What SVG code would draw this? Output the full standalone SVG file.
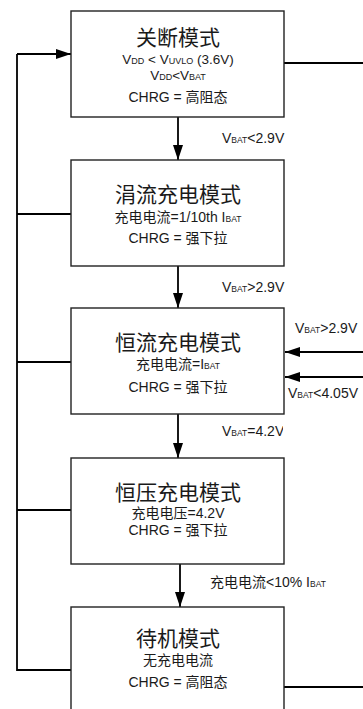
<svg xmlns="http://www.w3.org/2000/svg" width="363" height="709" viewBox="0 0 363 709">
<style>
.box{fill:#fff;stroke:#222;stroke-width:1.4}
.ln{fill:none;stroke:#000;stroke-width:1.8}
text{font-family:"Liberation Sans","Noto Sans CJK SC",sans-serif;fill:#1a1a1a}
.t{font-size:21px;text-anchor:middle}
.s{font-size:14px;text-anchor:middle}
.s2{font-size:13.5px;text-anchor:middle}
.l{font-size:14px}
.sub{font-size:8.5px}
.sub2{font-size:9px}
</style>
<defs>
<marker id="ah" markerWidth="15" markerHeight="10" refX="15" refY="5" orient="auto" markerUnits="userSpaceOnUse">
<path d="M0,0 L15,5 L0,10 Z" fill="#000"/>
</marker>
<clipPath id="clip42"><rect x="0" y="0" width="283" height="709"/></clipPath>
</defs>
<g id="connectors">
<path class="ln" d="M17,54 V670 H71"/>
<path class="ln" d="M17,214 H71"/>
<path class="ln" d="M17,362 H71"/>
<path class="ln" d="M17,510 H71"/>
<path class="ln" d="M17,54 H71" marker-end="url(#ah)"/>
<path class="ln" d="M284,63 H363"/>
<path class="ln" d="M284,687 H363"/>
<path class="ln" d="M178,117 V160" marker-end="url(#ah)"/>
<path class="ln" d="M178,266 V308" marker-end="url(#ah)"/>
<path class="ln" d="M178,414 V458" marker-end="url(#ah)"/>
<path class="ln" d="M180,564 V607" marker-end="url(#ah)"/>
<path class="ln" d="M363,352 H285" marker-end="url(#ah)"/>
<path class="ln" d="M363,377 H285" marker-end="url(#ah)"/>
<text class="l" x="222" y="143">V<tspan class="sub">BAT</tspan>&lt;2.9V</text>
<text class="l" x="222" y="292">V<tspan class="sub">BAT</tspan>&gt;2.9V</text>
<text class="l" x="295" y="333">V<tspan class="sub">BAT</tspan>&gt;2.9V</text>
<text class="l" x="288" y="398">V<tspan class="sub">BAT</tspan>&lt;4.05V</text>
<text class="l" x="222" y="436" clip-path="url(#clip42)">V<tspan class="sub">BAT</tspan>=4.2V</text>
<text class="l" x="210" y="587">充电电流&lt;10% I<tspan class="sub">BAT</tspan></text>
</g>
<g id="shutdown">
<rect class="box" x="71" y="11" width="213" height="106"/>
<text class="t" x="178" y="45">关断模式</text>
<text class="s2" x="178" y="64">V<tspan class="sub2">DD</tspan> &lt; V<tspan class="sub2">UVLO</tspan> (3.6V)</text>
<text class="s2" x="178" y="79.5">V<tspan class="sub2">DD</tspan>&lt;V<tspan class="sub2">BAT</tspan></text>
<text class="s" x="178" y="102">CHRG = 高阻态</text>
</g>
<g id="trickle">
<rect class="box" x="71" y="160" width="213" height="106"/>
<text class="t" x="178" y="202">涓流充电模式</text>
<text class="s" x="178" y="222">充电电流=1/10th I<tspan class="sub">BAT</tspan></text>
<text class="s" x="178" y="243">CHRG = 强下拉</text>
</g>
<g id="cc">
<rect class="box" x="71" y="308" width="213" height="106"/>
<text class="t" x="178" y="350">恒流充电模式</text>
<text class="s" x="178" y="369">充电电流=I<tspan class="sub">BAT</tspan></text>
<text class="s" x="178" y="392">CHRG = 强下拉</text>
</g>
<g id="cv">
<rect class="box" x="71" y="458" width="213" height="106"/>
<text class="t" x="178" y="500">恒压充电模式</text>
<text class="s" x="178" y="518">充电电压=4.2V</text>
<text class="s" x="178" y="535">CHRG = 强下拉</text>
</g>
<g id="standby">
<rect class="box" x="71" y="607" width="213" height="110"/>
<text class="t" x="178" y="646">待机模式</text>
<text class="s" x="178" y="665">无充电电流</text>
<text class="s" x="178" y="687">CHRG = 高阻态</text>
</g>
</svg>
